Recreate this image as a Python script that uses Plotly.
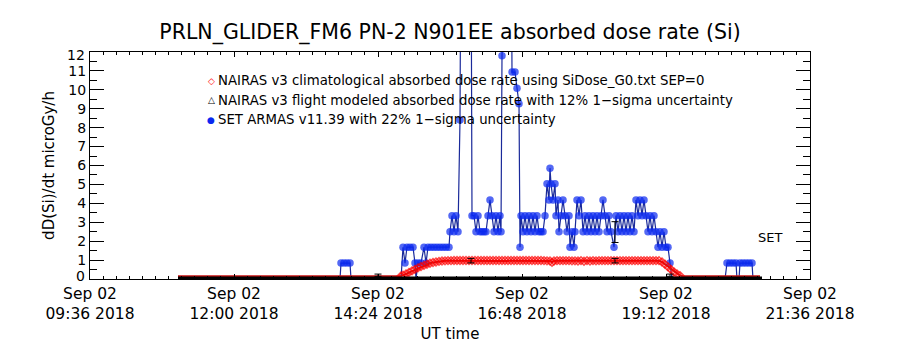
import pandas as pd
import plotly.graph_objects as go

BASE = pd.Timestamp("2018-09-02 09:36")

# ---- SET ARMAS (minutes after 09:36, dose rate microGy/h) ----
set_min = [90, 200, 250, 251, 254, 257, 260, 261, 311,
           313, 315, 317, 320, 323, 325, 326, 328, 331, 334, 336, 338, 341, 344, 347, 350, 353, 356, 359,
           360, 362, 364, 366, 368, 370, 371, 376, 381, 382, 384, 386, 388, 390, 392, 394, 396, 398,
           400, 402, 404, 406, 408, 410, 411, 412, 414, 418, 421, 422, 425, 427, 429, 430,
           431, 433, 435, 437, 439, 441, 443, 445, 447, 449, 451, 453, 455, 457, 459, 460, 461, 463,
           465, 466, 468, 469, 471, 473, 475, 477, 479, 480, 482, 484, 485, 487, 489, 491, 493, 495,
           497, 499, 501, 503, 505, 507, 509, 511, 513, 515, 517, 519, 521, 524, 526, 528, 530, 532,
           534, 536, 538, 540, 542, 544, 546, 548, 550, 552, 554, 556, 558, 560, 562, 564, 566, 568,
           570, 572, 574, 576, 578, 580, 582, 635, 637, 640, 643, 646, 647, 649, 650, 653, 656, 659,
           662, 663, 672]
set_val = [0, 0, 0, 0.84, 0.84, 0.84, 0.84, 0, 0,
           1.68, 0.84, 1.68, 1.68, 1.68, 0.84, 0, 0.84, 0.84, 1.68, 0.84, 1.68, 1.68, 1.68, 1.68, 1.68, 1.68, 1.68, 1.68,
           2.5, 3.35, 2.5, 3.35, 2.5, 8.4, 20, 24, 19, 3.35, 3.35, 2.5, 3.35, 2.5, 2.5, 2.5, 2.5, 3.35,
           4.18, 3.35, 2.5, 3.35, 2.5, 3.35, 2.5, 11.8, 22, 26, 21, 10.94, 10.94, 10.09, 9.26, 1.68,
           3.35, 2.5, 3.35, 2.5, 3.35, 2.5, 3.35, 2.5, 3.35, 2.5, 2.5, 2.5, 3.35, 5.03, 4.18, 5.86, 5.03, 4.18,
           5.03, 3.35, 4.18, 2.5, 3.35, 4.18, 3.35, 2.5, 3.35, 1.68, 2.5, 1.68, 2.5, 4.18, 3.35, 4.18, 2.5, 3.35,
           2.5, 3.35, 2.5, 3.35, 2.5, 3.35, 2.5, 3.35, 4.18, 3.35, 2.5, 3.35, 2.5, 1.68, 3.35, 2.5, 3.35, 2.5,
           3.35, 2.5, 3.35, 2.5, 3.35, 2.5, 4.18, 3.35, 4.18, 3.35, 4.18, 3.35, 2.5, 3.35, 2.5, 3.35, 2.5, 1.68,
           2.5, 1.68, 2.5, 1.68, 1.68, 0.84, 0, 0, 0.84, 0.84, 0.84, 0.84, 0, 0, 0.84, 0.84, 0.84, 0.84,
           0.84, 0, 0]

# ---- NAIRAS v3 climatological (minutes after 09:36) ----
clim_min = [88, 150, 220, 280, 309, 311, 313, 316, 319, 322, 325, 328, 331, 334, 337, 340, 343, 346, 349,
            352, 355, 358, 361, 364, 367, 370, 373, 376, 379, 382, 385, 388, 391, 394, 397, 400, 403,
            406, 409, 412, 415, 418, 421, 424, 427, 430, 433, 436, 439, 442, 445, 448, 451, 454, 457,
            460, 462, 464, 467, 470, 473, 476, 479, 482, 485, 488, 491, 494, 497, 500, 503, 506, 509,
            512, 515, 518, 521, 524, 527, 530, 533, 536, 539, 542, 545, 548, 551, 554, 557, 560, 563,
            566, 569, 572, 575, 578, 581, 584, 587, 590, 593, 596, 599, 620, 670]
clim_val = [0.14, 0.14, 0.14, 0.14, 0.14, 0.16, 0.2, 0.27, 0.35, 0.43, 0.51, 0.59, 0.66, 0.72, 0.78, 0.83, 0.87, 0.9, 0.93,
            0.95, 0.96, 0.97, 0.97, 0.98, 0.98, 0.98, 0.98, 0.98, 0.98, 0.98, 0.98, 0.98, 0.98, 0.98, 0.98, 0.98, 0.98,
            0.98, 0.98, 0.98, 0.98, 0.98, 0.98, 0.98, 0.98, 0.98, 0.98, 0.98, 0.98, 0.98, 0.98, 0.98, 0.98, 0.97, 0.96,
            0.95, 0.88, 0.95, 0.97, 0.97, 0.97, 0.97, 0.97, 0.96, 0.96, 0.95, 0.97, 0.94, 0.97, 0.95, 0.97, 0.96, 0.97,
            0.97, 0.97, 0.97, 0.97, 0.97, 0.97, 0.97, 0.97, 0.97, 0.97, 0.97, 0.97, 0.97, 0.97, 0.97, 0.97, 0.97, 0.97,
            0.97, 0.97, 0.9, 0.78, 0.64, 0.5, 0.37, 0.26, 0.18, 0.15, 0.14, 0.14, 0.14, 0.14]

# ---- NAIRAS v3 flight modeled ----
flt_min = [88, 672]
flt_val = [0, 0]

# ---- error bars (black) ----
err_min = [288, 381, 525, 525, 580]
err_val = [0.2, 0.97, 0.97, 2.48, 0.2]
err_sig = [0.06, 0.12, 0.12, 0.55, 0.06]

# ---- axis ticks ----
xtick_min = [0, 144, 288, 432, 576, 720]
xtick_text = ["Sep 02<br>09:36 2018", "Sep 02<br>12:00 2018", "Sep 02<br>14:24 2018",
              "Sep 02<br>16:48 2018", "Sep 02<br>19:12 2018", "Sep 02<br>21:36 2018"]
ytick_vals = list(range(0, 13))

legend_labels = [
    "NAIRAS v3 climatological absorbed dose rate using SiDose_G0.txt SEP=0",
    "NAIRAS v3 flight modeled absorbed dose rate with 12% 1\u2212sigma uncertainty",
    "SET ARMAS v11.39 with 22% 1\u2212sigma uncertainty",
]
legend_symbols = ["\u25c7", "\u25b3", "\u25cf"]
legend_colors = ["#ff0000", "#000000", "#0a28f0"]


def t(mins):
    return [BASE + pd.Timedelta(minutes=m) for m in mins]


FONT = "DejaVu Sans"
L, R, T, B, W, H = 90, 90, 52, 71, 900, 350
PW, PH = W - L - R, H - T - B


def px(xp):
    return (xp - L) / PW


def py(yp):
    return (H - B - yp) / PH


fig = go.Figure()

# SET ARMAS
fig.add_trace(go.Scatter(
    x=t(set_min), y=set_val, mode="lines+markers",
    line=dict(color="#1a2a9a", width=1.2),
    marker=dict(color="#0a28f0", size=[7.5 if v > 0 else 0 for v in set_val], symbol="circle",
                line=dict(width=0)),
    showlegend=False, cliponaxis=True))

# climatological
fig.add_trace(go.Scatter(
    x=t(clim_min), y=clim_val, mode="lines+markers",
    line=dict(color="#c81010", width=2),
    marker=dict(color="#ff0000", symbol="diamond-open", size=[6 if v > 0.15 else 0 for v in clim_val],
                line=dict(width=1.5, color="#ff0000")),
    showlegend=False, cliponaxis=True))

# flight modeled
fig.add_trace(go.Scatter(
    x=t(flt_min), y=flt_val, mode="lines",
    line=dict(color="#000000", width=5), showlegend=False))

# error bars
fig.add_trace(go.Scatter(
    x=t(err_min), y=err_val, mode="markers",
    marker=dict(size=0.1, color="#000000"),
    error_y=dict(type="data", array=err_sig, color="#000000", thickness=1, width=3.5),
    showlegend=False))

annotations = []
for i, (sym, lab, col) in enumerate(zip(legend_symbols, legend_labels, legend_colors)):
    ypix = 80.5 + i * 19.5
    annotations.append(dict(x=px(211), y=py(ypix), xref="paper", yref="paper",
                            text=sym, showarrow=False, xanchor="center", yanchor="middle",
                            font=dict(family=FONT, size=9, color=col)))
    annotations.append(dict(x=px(216), y=py(ypix), xref="paper", yref="paper",
                            text=lab, showarrow=False, xanchor="left", yanchor="middle",
                            font=dict(family=FONT, size=13.3, color="#000000")))
annotations.append(dict(x=px(770), y=py(237), xref="paper", yref="paper", text="SET",
                        showarrow=False, xanchor="center", yanchor="middle",
                        font=dict(family=FONT, size=13, color="#000000")))
# end labels of y axis (placed inside the frame like the original)
for val, yv in (("0", 0.15), ("12", 11.86)):
    annotations.append(dict(x=0, y=yv, xref="paper", yref="y", text=val, showarrow=False,
                            xanchor="right", yanchor="middle", xshift=-3,
                            font=dict(family=FONT, size=14, color="#000000")))

fig.update_layout(
    width=W, height=H,
    margin=dict(l=L, r=R, t=T, b=B),
    paper_bgcolor="white", plot_bgcolor="white",
    font=dict(family=FONT, color="#000000"),
    title=dict(text="PRLN_GLIDER_FM6 PN-2 N901EE absorbed dose rate (Si)",
               x=0.5, xanchor="center", y=1 - 31.5 / 350, yanchor="middle",
               font=dict(family=FONT, size=20.5, color="#000000")),
    annotations=annotations,
)

fig.update_xaxes(
    type="date", range=[BASE, BASE + pd.Timedelta(minutes=720)],
    tickvals=t(xtick_min), ticktext=xtick_text,
    tickfont=dict(family=FONT, size=15.5, color="#000000"),
    ticks="inside", ticklen=5, tickcolor="#000000", tickwidth=1,
    showline=True, linecolor="#000000", linewidth=1, mirror="allticks",
    showgrid=False, zeroline=False,
    minor=dict(ticks="inside", ticklen=3, dtick=144 * 60000 / 11, tickcolor="#000000", showgrid=False),
    title=dict(text="UT time", font=dict(family=FONT, size=15, color="#000000"), standoff=6),
)
fig.update_yaxes(
    range=[0, 12], tickvals=ytick_vals,
    ticktext=["" if v in (0, 12) else str(v) for v in ytick_vals],
    tickfont=dict(family=FONT, size=14, color="#000000"),
    ticks="inside", ticklen=14, tickcolor="#000000", tickwidth=1,
    showline=True, linecolor="#000000", linewidth=1, mirror="allticks",
    showgrid=False, zeroline=False,
    minor=dict(ticks="inside", ticklen=7, dtick=0.5, tickcolor="#000000", showgrid=False),
    title=dict(text="dD(Si)/dt microGy/h", font=dict(family=FONT, size=15, color="#000000"), standoff=10),
)

fig.write_html("out.html")
